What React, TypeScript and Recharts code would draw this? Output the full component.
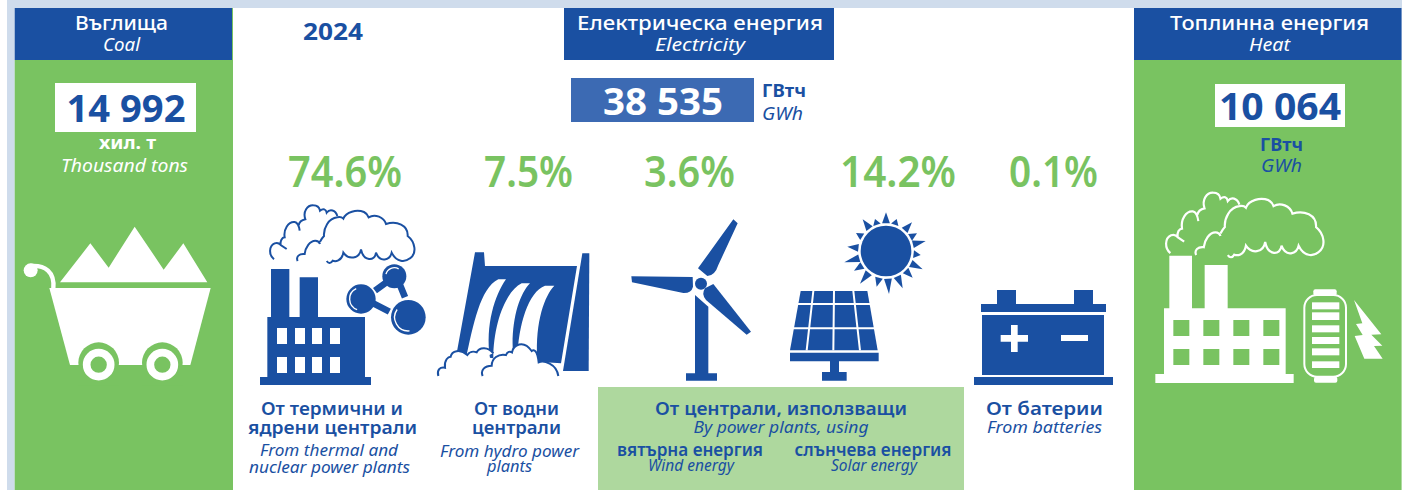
import React from "react";
import { ComposedChart, XAxis, YAxis, Scatter, ReferenceArea } from "recharts";

// ---------- data ----------
const year = "2024";
const panelTitles = ["Въглища", "Електрическа енергия", "Топлинна енергия"];
const panelSubtitles = ["Coal", "Electricity", "Heat"];
const totals = [14992, 38535, 10064];
const totalUnitsBg = ["хил. т", "ГВтч", "ГВтч"];
const totalUnitsEn = ["Thousand tons", "GWh", "GWh"];
const shareKeys = ["thermal", "hydro", "wind", "solar", "battery"];
const shareValues = [74.6, 7.5, 3.6, 14.2, 0.1];
const captionTexts = [
  "От термични и", "ядрени централи", "From thermal and", "nuclear power plants",
  "От водни", "централи", "From hydro power", "plants",
  "От централи, използващи", "By power plants, using",
  "вятърна енергия", "Wind energy", "слънчева енергия", "Solar energy",
  "От батерии", "From batteries",
];

// ---------- layout & style ----------
const BLUE = "#1a50a2";
const GREEN = "#79c361";
const PALE = "#aed89e";
const BAND = "#cfdcec";
const BOX = "#3c6ab3";
const FONT = "'Noto Sans', sans-serif";
const panelCentres = [121.5, 700, 1269.5];
const totalCentres = [126, 663, 1280];
const shareCentres = [345, 528.5, 689.5, 898, 1053.5];
const SHARE_ROW = 187;
const W = 1402;
const H = 490;
// x, baseline, fitted width, isEnglish for each caption
const captionLayout: [number, number, number, boolean][] = [
  [332, 415, 142, false], [332.5, 434, 169, false], [329, 456, 138, true], [329.5, 473, 161, true],
  [516.5, 415, 85, false], [516.5, 434, 89, false], [509.5, 457, 139, true], [509.5, 472, 45, true],
  [781, 415, 252, false], [781, 433, 175, true],
  [690, 456, 146, false], [691, 471, 86, true], [873, 456, 157, false], [874, 471, 86, true],
  [1044.5, 415, 117, false], [1044.5, 433, 115, true],
];

type TProps = {
  x: number; y: number; w?: number; size: number; fill?: string;
  weight?: number; italic?: boolean; anchor?: "middle" | "start"; children: React.ReactNode;
};
function T({ x, y, w, size, fill = BLUE, weight = 400, italic, anchor = "middle", children }: TProps) {
  return (
    <text x={x} y={y} fontFamily={FONT} fontSize={size} fill={fill} fontWeight={weight}
      fontStyle={italic ? "italic" : "normal"} textAnchor={anchor}
      textLength={w} lengthAdjust={w ? "spacingAndGlyphs" : undefined}>
      {children}
    </text>
  );
}

const arc = (cx: number, cy: number, r: number, a0: number, a1: number) => {
  const p = (a: number) => [cx + r * Math.cos((a * Math.PI) / 180), cy + r * Math.sin((a * Math.PI) / 180)];
  const [x0, y0] = p(a0);
  const [x1, y1] = p(a1);
  return `M${x0},${y0} A${r},${r} 0 ${Math.abs(a1 - a0) > 180 ? 1 : 0} 1 ${x1},${y1}`;
};

const cloudLeft =
  "M42,178 C26,165 26,138 44,130 C52,127 58,130 62,135 L80,147 M62,135 C60,122 66,113 74,112 C70,88 85,64 104,66 C112,67 117,78 119,92 M116,76 C118,66 126,60 136,58 C128,35 142,15 160,16 C172,16 178,22 180,32 C190,24 198,28 200,38 C210,26 226,30 232,48";
const cloudRight =
  "M113,183 C107,170 118,160 134,162 C136,142 150,122 166,122 C172,122 178,126 180,132 M180,125 C184,118 188,112 192,108 C190,85 205,55 232,52 C240,50 246,52 250,56 C258,35 290,28 312,36 C320,40 324,46 326,52 C345,40 372,52 378,72 C410,62 445,75 443,108 C465,125 472,160 450,175 C435,187 410,188 395,158 C390,180 360,190 348,158 C345,185 310,185 303,148 C298,178 265,180 250,158 C245,185 225,185 218,182 C212,192 205,190 200,183";

const Crop = ({ x, y, children }: { x: number; y: number; children: React.ReactNode }) => (
  <g transform={`translate(${x},${y}) scale(${1 / 3})`}>{children}</g>
);

function ThermalIcon() {
  const wx = [51, 105, 156, 210];
  return (
    <Crop x={260} y={200}>
      <path d={cloudLeft} fill="none" stroke={BLUE} strokeWidth={6} />
      <path d={cloudRight} fill="none" stroke={BLUE} strokeWidth={6} />
      <path d="M33,207H88V351H119V232H174V351H315V531H333V555H0V531H22V351H33Z" fill={BLUE} />
      {wx.map((x) => [384, 471].map((y) => <rect key={`${x}-${y}`} x={x} y={y} width={30} height={48} fill="#fff" />))}
      <path d="M345,272L378,248M420,255L435,292M340,310L388,335" stroke={BLUE} strokeWidth={20} fill="none" />
      <circle cx={303} cy={297} r={44} fill={BLUE} />
      <circle cx={403} cy={229} r={36} fill={BLUE} />
      <circle cx={445} cy={352} r={52} fill={BLUE} />
      <path d={arc(303, 297, 34, 110, 245)} stroke="#fff" strokeWidth={4} fill="none" />
      <path d={arc(403, 229, 26, 195, 300)} stroke="#fff" strokeWidth={4} fill="none" />
      <path d={arc(445, 352, 41, 85, 215)} stroke="#fff" strokeWidth={4} fill="none" />
    </Crop>
  );
}

function HydroIcon() {
  return (
    <Crop x={430} y={245}>
      <path d="M135,22H162L165,63H441L393,355L322,350L190,340L80,325Z" fill={BLUE} />
      <path d="M457,25H478L476,378H399Z" fill={BLUE} />
      <path d="M205,103H228C195,150 165,240 180,340H108C130,240 150,130 205,103Z" fill="#fff" />
      <path d="M275,115H300C265,150 240,240 250,340H190C190,240 225,140 275,115Z" fill="#fff" />
      <path d="M345,122H373C345,150 315,230 322,340H262C265,240 295,140 345,122Z" fill="#fff" />
      <path d="M25,393 C20,375 30,365 45,368 C42,345 55,335 62,335 C65,318 90,310 112,330 C118,320 130,318 140,322 C148,305 175,305 190,325"
        fill="#fff" stroke={BLUE} strokeWidth={6} />
      <path d="M158,393 C150,375 165,362 185,362 C185,340 205,325 228,330 C232,320 240,318 246,322 C250,300 280,282 305,318 C312,312 322,316 326,352 C340,345 380,355 385,393"
        fill="#fff" stroke={BLUE} strokeWidth={6} />
    </Crop>
  );
}

function WindIcon() {
  return (
    <Crop x={620} y={205}>
      <path d="M340,43L353,55L295,180Q285,212 262,213L234,190Z" fill={BLUE} />
      <path d="M34,214L218,216L219,245Q214,265 190,264L36,232Z" fill={BLUE} />
      <path d="M280,237L393,380L380,389L258,285Q243,268 255,250Z" fill={BLUE} />
      <circle cx={243} cy={236} r={18} fill={BLUE} />
      <path d="M225,270L265,305V505H291V527H198V505H225Z" fill={BLUE} />
    </Crop>
  );
}

const sunTips: [number, number][] = [
  [318, 22], [350, 42], [396, 52], [411, 85], [437, 108], [422, 150], [428, 193], [398, 218], [368, 250],
  [327, 267], [290, 245], [240, 236], [222, 197], [193, 172], [202, 125], [228, 84], [248, 43], [285, 42],
];

function SolarIcon() {
  const c = [318, 138];
  return (
    <Crop x={780} y={205}>
      <circle cx={c[0]} cy={c[1]} r={76} fill={BLUE} />
      {sunTips.map(([tx, ty]) => {
        const a = Math.atan2(ty - c[1], tx - c[0]);
        const s = 0.14;
        const b = (d: number) => `${c[0] + 84 * Math.cos(a + d)},${c[1] + 84 * Math.sin(a + d)}`;
        return <polygon key={`${tx}`} points={`${tx},${ty} ${b(s)} ${b(-s)}`} fill={BLUE} />;
      })}
      <path d="M62,258H262L293,436H30Z" fill={BLUE} />
      <path d="M100,258L80,436M162,258L160,436M220,258L240,436M40,297H280M30,370H290" stroke="#fff" strokeWidth={6} fill="none" />
      <path d="M30,443H296V469H177V501H200V527H126V501H150V469H30Z" fill={BLUE} />
    </Crop>
  );
}

function BatteryIcon() {
  return (
    <Crop x={960} y={200}>
      <path d="M111,270H168V312H342V270H399V312H438V336H63V312H111Z" fill={BLUE} />
      <rect x={66} y={345} width={366} height={180} fill={BLUE} />
      <rect x={42} y={531} width={417} height={24} fill={BLUE} />
      <path d="M122,405H153V375H173V405H204V425H173V456H153V425H122Z" fill="#fff" />
      <rect x={303} y={405} width={81} height={18} fill="#fff" />
    </Crop>
  );
}

const shareIcons = [ThermalIcon, HydroIcon, WindIcon, SolarIcon, BatteryIcon];

function CoalIcon() {
  return (
    <Crop x={0} y={200}>
      <path d="M180,247L271,130L326,203L404,80L491,209L550,130L622,247Z" fill="#fff" />
      <path d="M148,264H632L571,495H210Z" fill="#fff" />
      <path d="M92,198C135,195 165,215 160,266" stroke="#fff" strokeWidth={13} fill="none" />
      <circle cx={92} cy={211} r={21} fill="#fff" />
      <circle cx={296} cy={488} r={61} fill={GREEN} />
      <circle cx={487} cy={488} r={61} fill={GREEN} />
      <rect x={235} y={496} width={122} height={60} fill={GREEN} />
      <rect x={426} y={496} width={122} height={60} fill={GREEN} />
      <circle cx={296} cy={494} r={36} fill="none" stroke="#fff" strokeWidth={23} />
      <circle cx={487} cy={494} r={36} fill="none" stroke="#fff" strokeWidth={23} />
    </Crop>
  );
}

function HeatIcon() {
  const wx = [70, 160, 250, 340];
  const bars: [number, number][] = [[307, 328], [337, 360], [376, 397], [411, 432], [445, 466], [484, 504]];
  return (
    <>
      <Crop x={1150} y={185}>
        <g transform="translate(15.3,5.2) scale(1.09,1.12)">
          <path d={cloudLeft} fill="none" stroke="#fff" strokeWidth={6} />
          <path d={cloudRight} fill="none" stroke="#fff" strokeWidth={6} />
        </g>
        <path d="M58,212H126V370H164V240H233V370H407V567H431V594H16V567H42V370H58Z" fill="#fff" />
        {wx.map((x) => [405, 492].map((y) => <rect key={`${x}-${y}`} x={x} y={y} width={48} height={48} fill={GREEN} />))}
      </Crop>
      <Crop x={960} y={200}>
        <rect x={1033} y={285} width={125} height={245} rx={38} fill="none" stroke="#fff" strokeWidth={6} />
        <rect x={1060} y={268} width={70} height={18} rx={6} fill="#fff" />
        <rect x={1062} y={530} width={70} height={18} rx={6} fill="#fff" />
        {bars.map(([a, b]) => <rect key={a} x={1056} y={a} width={82} height={b - a} fill="#fff" />)}
        <path d="M1182,300L1264,403L1234,404L1267,437L1242,438L1268,476L1213,476L1184,408L1208,405L1188,372L1207,370Z" fill="#fff" />
      </Crop>
    </>
  );
}

const panelRows = panelTitles.map((title, i) => ({ title, subtitle: panelSubtitles[i], x: panelCentres[i], y: 30 }));
const totalRows = totals.map((value, i) => ({ value, x: totalCentres[i], y: 120, i }));
const shareRows = shareValues.map((value, i) => ({ key: shareKeys[i], value, x: shareCentres[i], y: SHARE_ROW, i }));
const captionRows = captionTexts.map((text, i) => ({
  text, x: captionLayout[i][0], y: captionLayout[i][1], w: captionLayout[i][2], en: captionLayout[i][3],
}));
const yearRows = [{ text: year, x: 333, y: 40 }];

const fmtTotal = (v: number) => `${Math.floor(v / 1000)} ${String(v % 1000).padStart(3, "0")}`;

const titleW = [93, 246, 199];
const subW = [37, 90, 41];

function PanelShape(props: any) {
  const { cx, cy, payload } = props;
  const i = panelTitles.indexOf(payload.title);
  return (
    <g>
      <T x={cx} y={cy} size={19.5} fill="#fff" weight={500} w={titleW[i]}>{payload.title}</T>
      <T x={cx} y={cy + 21} size={18} fill="#fff" italic w={subW[i]}>{payload.subtitle}</T>
    </g>
  );
}

function TotalShape(props: any) {
  const { cx, payload } = props;
  const i = payload.i;
  const label = fmtTotal(payload.value);
  if (i === 0) {
    return (
      <g>
        <T x={cx} y={122} size={38} weight={700} w={119}>{label}</T>
        <T x={127.5} y={149} size={17} fill="#fff" weight={700} w={57}>{totalUnitsBg[i]}</T>
        <T x={124.5} y={172} size={18} fill="#fff" italic w={127}>{totalUnitsEn[i]}</T>
        <CoalIcon />
      </g>
    );
  }
  if (i === 1) {
    return (
      <g>
        <T x={cx} y={115} size={38} fill="#fff" weight={700} w={120}>{label}</T>
        <T x={762} y={97} size={17} weight={700} anchor="start" w={44}>{totalUnitsBg[i]}</T>
        <T x={762} y={120} size={18} italic anchor="start" w={41}>{totalUnitsEn[i]}</T>
      </g>
    );
  }
  return (
    <g>
      <T x={cx} y={120} size={38} weight={700} w={122}>{label}</T>
      <T x={1281.5} y={151} size={17} weight={700} w={43}>{totalUnitsBg[i]}</T>
      <T x={1281.5} y={172} size={18} italic w={41}>{totalUnitsEn[i]}</T>
      <HeatIcon />
    </g>
  );
}

const pctW = [114, 89, 91, 116, 89];

function ShareShape(props: any) {
  const { cx, cy, payload } = props;
  const Icon = shareIcons[payload.i];
  return (
    <g>
      <T x={cx} y={cy} size={44} fill={GREEN} weight={600} w={pctW[payload.i]}>{`${payload.value.toFixed(1)}%`}</T>
      <Icon />
    </g>
  );
}

function CaptionShape(props: any) {
  const { cx, cy, payload } = props;
  return payload.en ? (
    <T x={cx} y={cy} size={15.5} italic w={payload.w}>{payload.text}</T>
  ) : (
    <T x={cx} y={cy} size={17} weight={600} w={payload.w}>{payload.text}</T>
  );
}

function YearShape(props: any) {
  return <T x={props.cx} y={props.cy} size={24} weight={700} w={60}>{props.payload.text}</T>;
}

const Area = (x1: number, x2: number, y1: number, y2: number, fill: string, key: string) => (
  <ReferenceArea key={key} x1={x1} x2={x2} y1={y1} y2={y2} fill={fill} fillOpacity={1} stroke="none" ifOverflow="visible" />
);

export default function App() {
  return (
    <div style={{ position: "absolute", left: 0, top: 0, width: W, height: H, background: "#fff" }}>
      <ComposedChart width={W} height={H} margin={{ top: 0, right: 0, bottom: 0, left: 0 }} data={shareRows}>
        <XAxis type="number" dataKey="x" domain={[0, W]} hide />
        <YAxis type="number" dataKey="y" domain={[0, H]} reversed hide />
        {Area(7, W, 0, 8, BAND, "band-top")}
        {Area(7, 14.7, 0, H, BAND, "band-left")}
        {Area(14.7, 233, 60, H, GREEN, "green-left")}
        {Area(1134, 1401.6, 60, H, GREEN, "green-right")}
        {Area(232, 233, 8, 60, GREEN, "green-line")}
        {Area(14.7, 232, 8, 60, BLUE, "head-left")}
        {Area(564, 834, 8, 60, BLUE, "head-mid")}
        {Area(1134, 1401.6, 8, 60, BLUE, "head-right")}
        {Area(571, 754, 78, 122, BOX, "box-mid")}
        {Area(55, 196, 83, 132, "#fff", "box-left")}
        {Area(1215, 1345, 84, 127, "#fff", "box-right")}
        {Area(598, 964, 387, H, PALE, "pale")}
        <Scatter data={panelRows} dataKey="y" shape={PanelShape} isAnimationActive={false} />
        <Scatter data={totalRows} dataKey="y" shape={TotalShape} isAnimationActive={false} />
        <Scatter data={shareRows} dataKey="y" shape={ShareShape} isAnimationActive={false} />
        <Scatter data={captionRows} dataKey="y" shape={CaptionShape} isAnimationActive={false} />
        <Scatter data={yearRows} dataKey="y" shape={YearShape} isAnimationActive={false} />
      </ComposedChart>
    </div>
  );
}
